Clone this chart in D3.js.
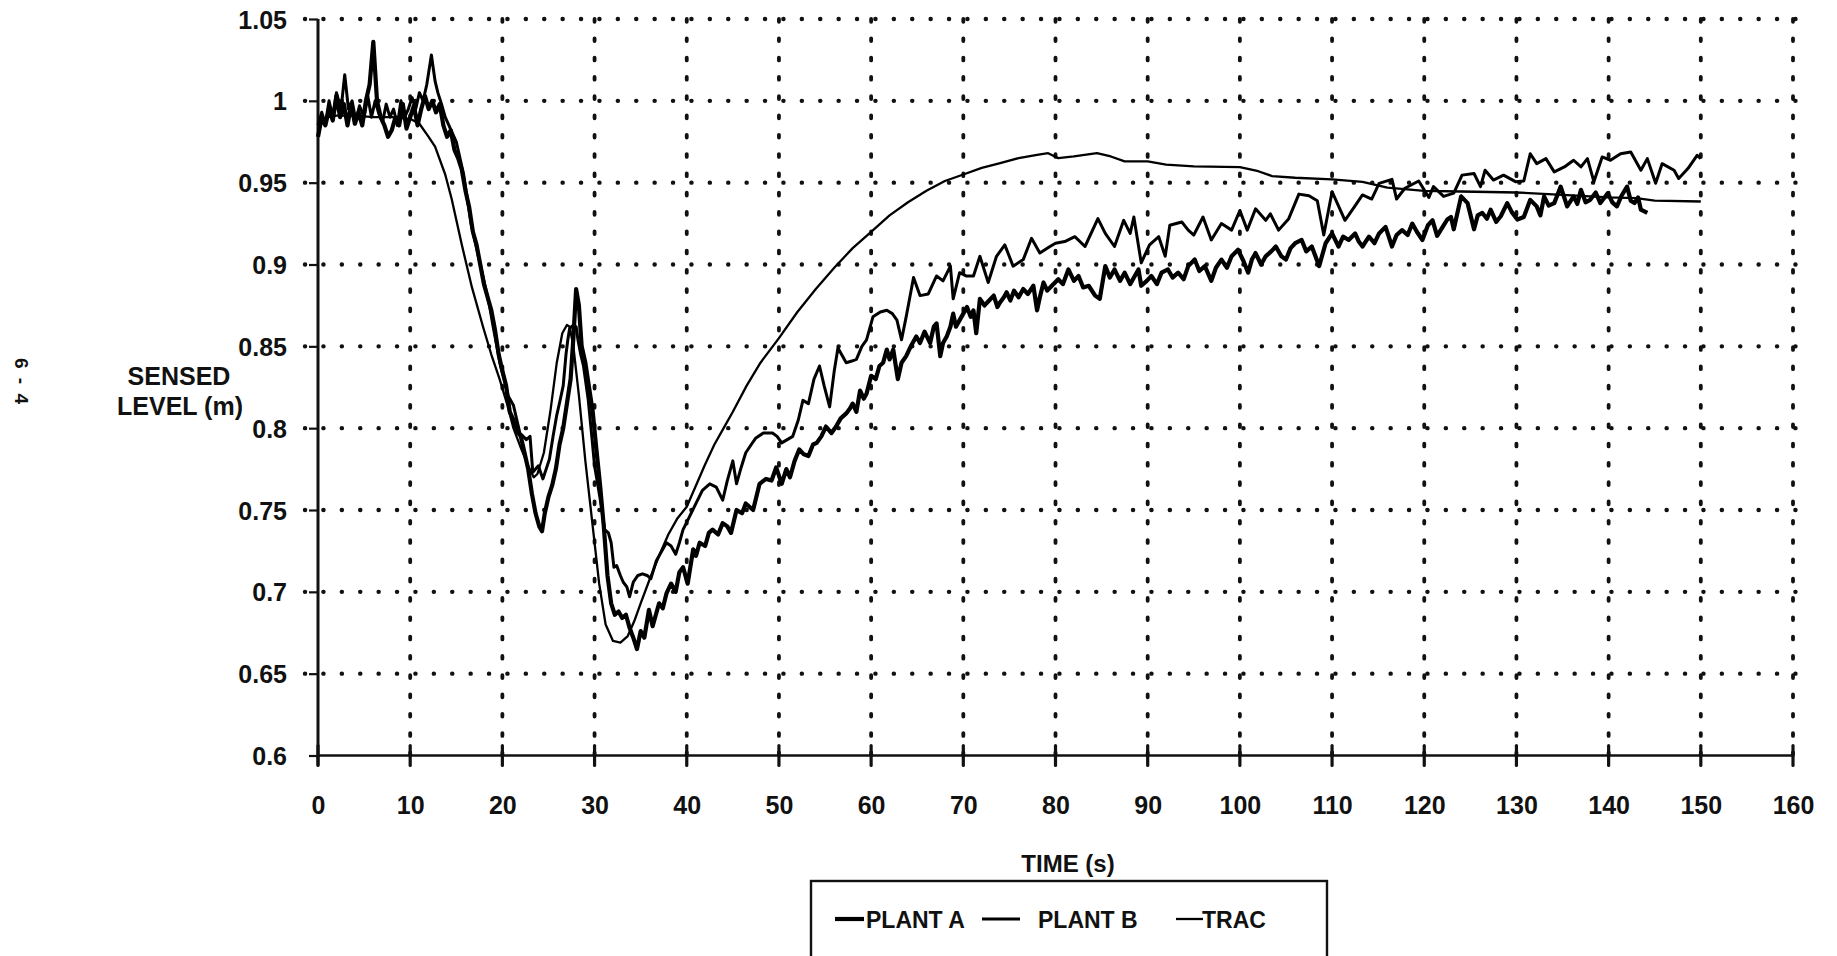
<!DOCTYPE html>
<html>
<head>
<meta charset="utf-8">
<script src="https://cdn.jsdelivr.net/npm/d3@7"></script>
<style>
  html, body { margin: 0; padding: 0; background: #fff; }
  svg { display: block; }
  text { font-family: "Liberation Sans", Arial, Helvetica, sans-serif; font-weight: bold; fill: #111; }
</style>
</head>
<body>
<svg id="chart" width="1837" height="956"></svg>
<script>
// ---- data (time s, sensed level m) ----
const xTicks = [0,10,20,30,40,50,60,70,80,90,100,110,120,130,140,150,160];
const yTicks = [0.6,0.65,0.7,0.75,0.8,0.85,0.9,0.95,1,1.05];
const yTickLabels = ["0.6","0.65","0.7","0.75","0.8","0.85","0.9","0.95","1","1.05"];
const seriesNames = ["PLANT A","PLANT B","TRAC"];

const plantA = [
[0,0.978],[0.4,0.99],[0.8,0.985],[1.2,0.995],[1.6,0.988],[2.0,1.003],[2.4,0.99],[2.8,0.998],[3.2,0.985],[3.6,0.998],
[4.0,0.986],[4.4,0.993],[4.8,0.985],[5.2,1.0],[5.6,1.01],[6.0,1.036],[6.4,1.0],[6.8,0.99],[7.2,0.985],[7.6,0.978],
[8.0,0.982],[8.4,0.99],[8.8,0.985],[9.2,0.998],[9.6,0.983],[10.0,0.99],[10.4,0.997],[10.8,0.985],[11.2,0.995],[11.6,1.003],
[12.0,0.995],[12.4,1.0],[12.8,0.993],[13.2,0.998],[13.6,0.985],[14.0,0.978],[14.4,0.982],[14.8,0.97],[15.2,0.965],[15.6,0.958],
[16.0,0.945],[16.4,0.935],[16.8,0.92],[17.2,0.912],[17.6,0.9],[18.0,0.888],[18.4,0.88],[18.8,0.872],[19.2,0.86],[19.6,0.845],
[20.0,0.835],[20.4,0.826],[20.8,0.81],[21.2,0.805],[21.6,0.798],[22.0,0.795],[22.4,0.785],[22.8,0.775],[23.2,0.76],[23.6,0.748],
[24.0,0.74],[24.3,0.737],[24.6,0.748],[25.0,0.758],[25.4,0.765],[25.8,0.775],[26.2,0.79],[26.6,0.80],[27.0,0.815],[27.4,0.83],
[27.7,0.855],[28.0,0.885],[28.3,0.875],[28.6,0.85],[29.0,0.84],[29.4,0.825],[29.8,0.81],[30.2,0.787],[30.6,0.765],[31.0,0.74],
[31.4,0.71],[31.8,0.693],[32.2,0.686],[32.6,0.688],[33.0,0.684],[33.4,0.686],[33.8,0.678],[34.2,0.672],[34.6,0.665],[35.0,0.676],
[35.4,0.672],[35.9,0.689],[36.3,0.679],[37.0,0.693],[37.4,0.69],[37.8,0.699],[38.3,0.705],[38.8,0.70],[39.2,0.712],[39.6,0.715],
[40.1,0.705],[40.7,0.726],[41.0,0.722],[41.4,0.730],[42.0,0.728],[42.4,0.736],[42.8,0.738],[43.4,0.735],[43.9,0.742],[44.4,0.74],
[44.8,0.736],[45.4,0.75],[46.0,0.748],[46.4,0.754],[47.2,0.75],[47.9,0.766],[48.6,0.769],[49.2,0.768],[49.7,0.776],[50.3,0.766],
[50.8,0.775],[51.2,0.77],[51.7,0.78],[52.2,0.787],[52.7,0.784],[53.2,0.783],[53.7,0.79],[54.1,0.791],[54.6,0.795],[55.1,0.801],
[55.7,0.797],[56.2,0.801],[56.7,0.806],[57.3,0.809],[57.7,0.812],[58.0,0.815],[58.4,0.81],[58.8,0.823],[59.2,0.818],[59.5,0.821],
[60.0,0.832],[60.5,0.83],[60.9,0.838],[61.3,0.84],[61.7,0.848],[62.0,0.842],[62.4,0.848],[62.9,0.83],[63.3,0.84],[63.8,0.844],
[64.3,0.85],[64.9,0.856],[65.3,0.852],[65.8,0.859],[66.4,0.852],[66.8,0.862],[67.1,0.864],[67.5,0.844],[67.8,0.852],[68.2,0.856],
[68.6,0.862],[68.9,0.87],[69.2,0.862],[69.6,0.866],[70.0,0.87],[70.4,0.874],[70.8,0.868],[71.1,0.872],[71.4,0.858],[71.8,0.879],
[72.3,0.875],[72.8,0.878],[73.3,0.881],[73.7,0.874],[74.0,0.877],[74.4,0.88],[74.7,0.883],[75.1,0.878],[75.5,0.884],[76.0,0.88],
[76.5,0.885],[77.0,0.882],[77.6,0.887],[78.0,0.872],[78.3,0.88],[78.7,0.889],[79.1,0.884],[79.6,0.887],[80.3,0.891],[80.8,0.888],
[81.4,0.897],[82.0,0.89],[82.5,0.893],[83.0,0.886],[83.6,0.887],[84.3,0.881],[84.8,0.879],[85.4,0.899],[85.9,0.892],[86.4,0.897],
[87.0,0.89],[87.5,0.895],[88.1,0.888],[88.6,0.893],[89.0,0.897],[89.3,0.887],[89.9,0.89],[90.4,0.893],[91.0,0.888],[91.5,0.895],
[92.2,0.897],[92.7,0.892],[93.3,0.895],[93.9,0.891],[94.4,0.899],[95.1,0.903],[95.6,0.896],[96.2,0.899],[96.9,0.89],[97.4,0.898],
[98.0,0.903],[98.6,0.898],[99.1,0.905],[99.8,0.909],[100.4,0.902],[100.9,0.895],[101.3,0.903],[101.7,0.907],[102.3,0.9],[102.8,0.905],
[103.4,0.908],[103.9,0.911],[104.5,0.905],[105.0,0.903],[105.5,0.91],[106.0,0.913],[106.7,0.915],[107.2,0.908],[107.8,0.911],[108.2,0.905],
[108.6,0.899],[109.3,0.913],[110.0,0.919],[110.7,0.911],[111.2,0.917],[111.8,0.915],[112.5,0.919],[112.9,0.914],[113.3,0.911],[114.0,0.917],
[114.6,0.913],[115.1,0.919],[115.8,0.923],[116.5,0.911],[117.0,0.918],[117.6,0.921],[118.2,0.918],[118.7,0.925],[119.2,0.92],[119.8,0.915],
[120.4,0.924],[120.9,0.927],[121.4,0.9175],[122.0,0.923],[122.5,0.9275],[122.9,0.929],[123.2,0.9215],[124.0,0.9416],[124.7,0.9375],[125.4,0.9215],
[125.8,0.93],[126.3,0.9315],[126.8,0.928],[127.2,0.9335],[127.8,0.926],[128.3,0.9295],[129.0,0.9375],[129.5,0.932],[130.1,0.9275],[130.8,0.929],
[131.5,0.9395],[132.2,0.9355],[132.6,0.93],[133.0,0.9416],[133.5,0.936],[134.1,0.9375],[134.8,0.9476],[135.5,0.9355],[136.2,0.9416],[136.6,0.937],
[137.0,0.9456],[137.5,0.938],[138.0,0.9395],[138.6,0.944],[139.1,0.9375],[139.9,0.9436],[140.4,0.938],[140.9,0.9355],[141.4,0.942],[142.0,0.9476],
[142.4,0.939],[142.8,0.9375],[143.2,0.941],[143.5,0.9335],[144.2,0.9315]
];

const plantB = [
[0,0.985],[0.4,0.993],[0.8,0.986],[1.2,1.0],[1.6,0.99],[2.0,1.005],[2.5,0.995],[2.9,1.016],[3.3,0.995],[3.7,1.0],
[4.1,0.988],[4.5,0.997],[5.0,0.99],[5.4,1.003],[5.8,0.99],[6.2,1.0],[6.6,0.992],[7.0,0.987],[7.4,0.998],[7.8,0.99],
[8.2,0.995],[8.6,0.985],[9.0,1.0],[9.4,0.99],[9.8,0.995],[10.2,1.002],[10.6,0.995],[11.0,1.005],[11.4,1.0],[11.8,1.01],
[12.3,1.028],[12.7,1.012],[13.0,1.005],[13.4,0.998],[13.8,0.99],[14.2,0.985],[14.6,0.98],[15.0,0.975],[15.4,0.965],[15.8,0.955],
[16.2,0.94],[16.6,0.925],[17.0,0.915],[17.4,0.905],[17.8,0.895],[18.2,0.885],[18.6,0.875],[19.0,0.862],[19.4,0.85],[19.8,0.838],
[20.2,0.83],[20.6,0.82],[21.2,0.814],[21.9,0.797],[22.6,0.793],[23.0,0.795],[23.3,0.773],[23.9,0.777],[24.4,0.769],[25.1,0.781],
[25.5,0.795],[25.9,0.808],[26.3,0.818],[26.6,0.826],[26.9,0.845],[27.1,0.854],[27.3,0.861],[27.7,0.863],[28.0,0.862],[28.2,0.854],
[28.5,0.845],[28.8,0.838],[29.3,0.818],[29.7,0.795],[30.0,0.777],[30.6,0.757],[31.1,0.738],[31.5,0.736],[31.8,0.73],[32.1,0.715],
[32.4,0.716],[32.8,0.71],[33.1,0.706],[33.5,0.703],[33.8,0.697],[34.2,0.706],[34.7,0.71],[35.2,0.711],[35.7,0.71],[36.1,0.708],
[36.7,0.719],[37.2,0.724],[37.8,0.73],[38.3,0.728],[38.8,0.723],[39.2,0.73],[39.6,0.738],[40.3,0.746],[41.0,0.754],[41.7,0.762],
[42.5,0.766],[43.2,0.764],[43.9,0.756],[44.4,0.768],[45.0,0.78],[45.4,0.766],[45.9,0.776],[46.4,0.785],[47.0,0.79],[47.5,0.794],
[48.3,0.797],[49.3,0.797],[49.8,0.795],[50.3,0.791],[50.9,0.793],[51.5,0.795],[52.1,0.805],[52.6,0.817],[53.2,0.815],[53.8,0.83],
[54.4,0.838],[54.9,0.826],[55.5,0.813],[56.0,0.835],[56.4,0.849],[57.3,0.84],[57.9,0.841],[58.4,0.842],[59.0,0.85],[59.5,0.854],
[60.2,0.868],[61.0,0.871],[61.7,0.872],[62.3,0.87],[62.8,0.866],[63.3,0.854],[63.8,0.868],[64.2,0.88],[64.6,0.892],[65.3,0.881],
[66.2,0.882],[67.1,0.893],[67.8,0.89],[68.6,0.899],[68.9,0.879],[69.6,0.895],[70.3,0.893],[71.1,0.893],[71.8,0.905],[72.7,0.889],
[73.6,0.905],[74.5,0.912],[75.4,0.899],[76.5,0.903],[77.4,0.916],[78.3,0.907],[79.4,0.911],[80.0,0.913],[81.0,0.914],[82.1,0.917],
[83.2,0.911],[84.6,0.928],[85.4,0.919],[86.4,0.911],[87.4,0.927],[88.1,0.919],[88.5,0.929],[89.3,0.901],[90.2,0.912],[91.2,0.917],
[91.9,0.905],[92.4,0.924],[93.7,0.926],[94.4,0.921],[95.0,0.918],[96.0,0.929],[96.9,0.915],[98.0,0.925],[99.1,0.921],[100.0,0.933],
[100.8,0.921],[101.7,0.934],[102.8,0.927],[103.3,0.931],[104.2,0.921],[105.3,0.928],[106.4,0.943],[107.5,0.942],[108.4,0.939],[109.1,0.918],
[110.0,0.9445],[111.4,0.927],[112.4,0.935],[113.3,0.9425],[114.3,0.940],[115.1,0.9496],[116.5,0.952],[117.0,0.940],[117.9,0.9466],[119.4,0.951],
[120.5,0.941],[121.0,0.9476],[122.1,0.9416],[123.2,0.9436],[124.1,0.9546],[125.4,0.9556],[126.1,0.9476],[126.6,0.9576],[127.5,0.9516],[128.6,0.9546],
[129.9,0.9506],[130.8,0.951],[131.5,0.9677],[132.2,0.9616],[133.2,0.9647],[134.1,0.9566],[135.2,0.9596],[136.2,0.9637],[137.0,0.9596],[137.7,0.9647],
[138.4,0.9506],[139.3,0.9657],[140.2,0.9637],[141.3,0.9677],[142.4,0.9687],[143.5,0.9576],[144.2,0.9647],[145.1,0.9496],[145.8,0.9616],[147.1,0.9576],
[147.6,0.9526],[148.6,0.9586],[149.6,0.9667],[150.0,0.9647]
];

const trac = [
[0,0.98],[0.5,0.988],[1,0.99],[2,0.991],[4,0.991],[6,0.99],[8,0.99],[10,0.989],[11,0.986],[12,0.978],
[12.7,0.972],[13.8,0.955],[14.5,0.94],[15.6,0.912],[16.7,0.886],[17.9,0.862],[18.8,0.845],[19.7,0.830],[20.5,0.815],[21.2,0.80],
[22,0.788],[22.8,0.777],[23.4,0.770],[23.8,0.772],[24.5,0.785],[25.2,0.81],[25.9,0.84],[26.5,0.858],[27.0,0.863],[27.3,0.862],
[27.7,0.85],[28.3,0.82],[29,0.78],[29.8,0.74],[30.5,0.705],[31.2,0.68],[32,0.67],[32.8,0.669],[33.6,0.673],[34.3,0.682],
[35,0.693],[36,0.708],[37,0.722],[38,0.735],[39,0.745],[40,0.752],[41,0.765],[42,0.778],[43,0.79],[44,0.80],
[45,0.81],[46.5,0.826],[48,0.84],[50,0.855],[52,0.871],[54,0.885],[56,0.898],[58,0.91],[60,0.92],[62,0.93],
[64,0.938],[66,0.945],[68,0.951],[70,0.955],[72,0.959],[74,0.962],[76,0.965],[78,0.967],[79.2,0.968],[80.3,0.965],
[82,0.966],[84.5,0.968],[86,0.966],[87.5,0.963],[90,0.963],[92,0.961],[95,0.960],[100,0.9595],[102,0.957],[103.5,0.954],
[106,0.953],[110,0.952],[113.3,0.9505],[116,0.947],[120,0.945],[124,0.9446],[130,0.944],[135,0.9426],[140,0.941],[143,0.9406],
[145,0.939],[150,0.9385]
];

// ---- layout ----
const svg = d3.select("#chart");
const x = d3.scaleLinear().domain([0,160]).range([318,1793]);
const y = d3.scaleLinear().domain([0.6,1.05]).range([755.5,19]);

// grid: horizontal dotted
svg.append("g").selectAll("line").data(yTicks.slice(1)).join("line")
  .attr("x1", 305).attr("x2", 1800)
  .attr("y1", d => y(d)).attr("y2", d => y(d))
  .attr("stroke", "#111").attr("stroke-width", 4.4)
  .attr("stroke-linecap", "round").attr("stroke-dasharray", "0.1,18.3");

// grid: vertical dotted
svg.append("g").selectAll("line").data(xTicks.slice(1)).join("line")
  .attr("x1", d => x(d)).attr("x2", d => x(d))
  .attr("y1", 19).attr("y2", 755)
  .attr("stroke", "#111").attr("stroke-width", 3.8)
  .attr("stroke-linecap", "round").attr("stroke-dasharray", "2.8,16.5");

// x axis with ticks
const xAxis = d3.axisBottom(x).tickValues(xTicks).tickSize(0).tickFormat(d3.format("d"));
const gx = svg.append("g").attr("transform", `translate(0,${y(0.6)})`).call(xAxis);
gx.select(".domain").attr("stroke", "#111").attr("stroke-width", 2.6).attr("d", `M${x(0)},0H${x(160)}`);
gx.selectAll(".tick text").attr("y", 58).attr("dy", 0).attr("font-size", 25)
  .attr("font-family", "Liberation Sans, Arial, sans-serif").attr("font-weight", "bold").attr("fill", "#111");
svg.append("g").selectAll("line").data(xTicks).join("line")
  .attr("x1", d => x(d)).attr("x2", d => x(d))
  .attr("y1", y(0.6) - 10).attr("y2", y(0.6) + 10)
  .attr("stroke", "#111").attr("stroke-width", 3.2).attr("stroke-linecap", "round");

// y axis
const yAxis = d3.axisLeft(y).tickValues(yTicks).tickSize(9).tickFormat((d,i) => yTickLabels[i]);
const gy = svg.append("g").attr("transform", `translate(${x(0)},0)`).call(yAxis);
gy.select(".domain").attr("stroke", "#111").attr("stroke-width", 3).attr("d", `M0,${y(1.05)}V${y(0.6)+10}`);
gy.selectAll(".tick line").attr("stroke", "#111").attr("stroke-width", 2.2);
gy.selectAll(".tick text").attr("x", -31).attr("dy", "0.36em").attr("font-size", 25)
  .attr("font-family", "Liberation Sans, Arial, sans-serif").attr("font-weight", "bold").attr("fill", "#111");

// series
const line = d3.line().x(d => x(d[0])).y(d => y(d[1]));
const seriesData = [plantA, plantB, trac];
const widths = [4.2, 3.0, 2.3];
svg.append("g").selectAll("path").data(seriesData).join("path")
  .attr("d", line).attr("fill", "none").attr("stroke", "#000")
  .attr("stroke-width", (d,i) => widths[i]).attr("stroke-linejoin", "round");

// axis titles
svg.append("text").attr("x", 179).attr("y", 385).attr("text-anchor", "middle").attr("font-size", 25).text("SENSED");
svg.append("text").attr("x", 180).attr("y", 415).attr("text-anchor", "middle").attr("font-size", 25).text("LEVEL (m)");
svg.append("text").attr("x", 1068).attr("y", 872).attr("text-anchor", "middle").attr("font-size", 24).text("TIME (s)");

// page number
svg.append("text").attr("transform", "translate(15,382) rotate(90)").attr("text-anchor", "middle")
  .attr("font-size", 19).attr("letter-spacing", 2).text("6 - 4");

// legend
const lg = svg.append("g");
lg.append("rect").attr("x", 811).attr("y", 881).attr("width", 516).attr("height", 100)
  .attr("fill", "none").attr("stroke", "#111").attr("stroke-width", 2.4);
const legItems = [
  {x1: 835, x2: 864, tx: 866},
  {x1: 982, x2: 1020, tx: 1038},
  {x1: 1176, x2: 1203, tx: 1202}
];
legItems.forEach((it, i) => {
  lg.append("line").attr("x1", it.x1).attr("x2", it.x2).attr("y1", 919).attr("y2", 919)
    .attr("stroke", "#000").attr("stroke-width", widths[i]);
  lg.append("text").attr("x", it.tx).attr("y", 928).attr("font-size", 23).text(seriesNames[i]);
});
</script>
</body>
</html>
